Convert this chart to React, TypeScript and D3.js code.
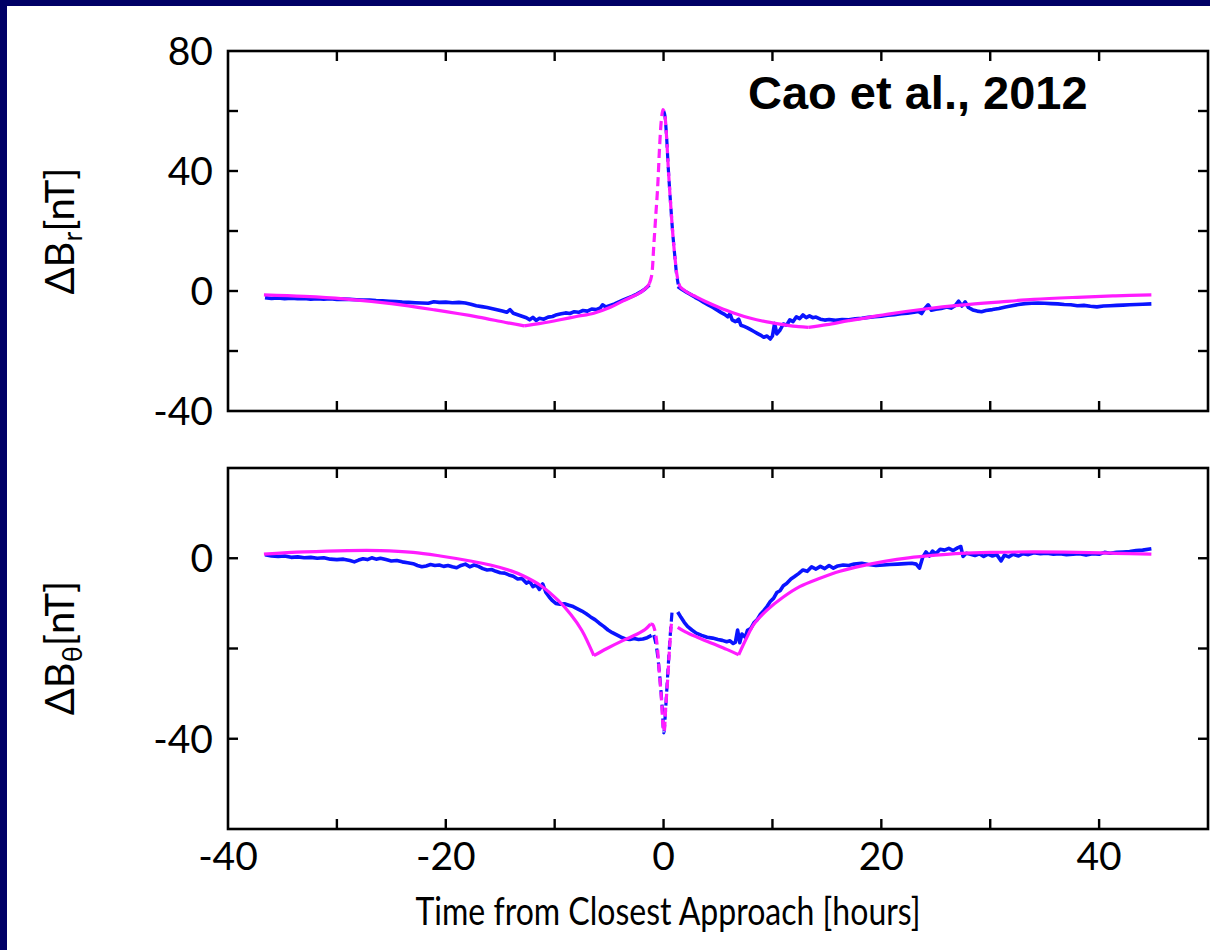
import React from 'react';
import * as d3 from 'd3';

// Canvas and panel geometry
const W = 1210;
const H = 950;
const X0 = 228;
const X1 = 1208;
const TOP = { y0: 51, y1: 411 };
const BOT = { y0: 468, y1: 829 };

// Axes
const xDomain: [number, number] = [-40, 50];
const xTicks = [-30, -20, -10, 0, 10, 20, 30, 40];
const xTickLabels = [-40, -20, 0, 20, 40];
const brDomain: [number, number] = [-40, 80];
const brTicks = [-20, 0, 20, 40, 60];
const brTickLabels = [80, 40, 0, -40];
const btDomain: [number, number] = [-60, 20];
const btTicks = [-40, -20, 0];
const btTickLabels = [0, -40];

// ΔBr — model (magenta), [hours, nT]
const brModelLeftA = [[-36.7, -1.3], [-33, -1.8], [-29.4, -2.6], [-25, -4.2], [-21, -6.3], [-17, -8.7], [-14.5, -10.5], [-12.8, -11.6]];
const brModelLeftB = [[-12.8, -11.6], [-11.3, -10.8], [-9.5, -9.6], [-8, -8.5], [-6.4, -7.4], [-5, -5.6], [-3.7, -3.3], [-2.7, -1.6], [-2, -0.2], [-1.5, 1.4], [-1.3, 2.5]];
const brModelPeak = [[-1.3, 2.5], [-1.1, 5], [-0.9, 15], [-0.7, 26], [-0.55, 34], [-0.35, 49], [-0.2, 57], [-0.05, 60.5], [0.1, 59], [0.25, 53], [0.45, 40], [0.65, 29], [0.85, 19], [1.05, 11], [1.25, 5], [1.5, 1.4]];
const brModelRightA = [[1.5, 1.4], [2.2, -0.5], [2.8, -1.6], [3.8, -3.4], [5, -5.3], [6.5, -7.4], [8, -9.1], [9.5, -10.3], [11, -11.2], [12.4, -11.9], [13.3, -12.1]];
const brModelRightB = [[13.3, -12.1], [15, -11.2], [17, -9.9], [20.8, -7.6], [24, -6], [27.3, -4.7], [31, -3.6], [34, -2.8], [38, -2.1], [41.5, -1.6], [44.8, -1.3]];

// ΔBr — observed (blue)
const brObsLeft = [[-36.6, -2.2], [-36.0, -2.5], [-35.4, -2.3], [-34.8, -2.6], [-34.2, -2.4], [-33.6, -2.6], [-33.0, -2.5], [-32.4, -2.7], [-31.8, -2.6], [-31.2, -2.7], [-30.6, -2.6], [-30.0, -2.8], [-29.4, -2.7], [-28.8, -2.8], [-28.2, -2.9], [-27.6, -3.0], [-27.0, -3.0], [-26.4, -3.2], [-25.8, -3.3], [-25.2, -3.4], [-24.6, -3.5], [-24.0, -3.7], [-23.4, -3.8], [-22.8, -3.9], [-22.2, -4.0], [-21.6, -4.1], [-21.1, -3.6], [-20.6, -3.8], [-20.0, -3.7], [-19.4, -3.9], [-18.8, -3.8], [-18.2, -4.0], [-17.7, -4.4], [-17.2, -4.9], [-16.7, -5.2], [-16.2, -5.5], [-15.7, -5.9], [-15.2, -6.3], [-14.8, -6.7], [-14.4, -7.1], [-14.1, -6.2], [-13.8, -7.4], [-13.4, -7.9], [-13.0, -8.4], [-12.6, -8.9], [-12.3, -9.6], [-12.0, -8.8], [-11.7, -9.8], [-11.4, -9.1], [-11.0, -9.4], [-10.6, -8.7], [-10.2, -8.5], [-9.8, -7.9], [-9.4, -7.6], [-9.0, -7.3], [-8.6, -7.5], [-8.2, -6.9], [-7.8, -7.1], [-7.4, -6.5], [-7.0, -6.7], [-6.6, -6.0], [-6.2, -6.2], [-5.8, -5.6], [-5.6, -4.6], [-5.3, -5.3], [-4.9, -4.8], [-4.5, -4.3], [-4.1, -3.6], [-3.7, -3.0], [-3.3, -2.4], [-2.9, -1.8], [-2.5, -1.1], [-2.1, -0.3], [-1.7, 0.7], [-1.3, 2.0]];
const brObsPeak = [[0.0, 60], [0.1, 59], [0.25, 53], [0.45, 40], [0.65, 29], [0.85, 19], [1.05, 11], [1.2, 5.5], [1.35, 2.2]];
const brObsRight = [[1.3, 1.5], [1.7, 0.5], [2.1, -0.4], [2.5, -1.2], [2.9, -2.1], [3.3, -2.9], [3.7, -3.8], [4.1, -4.6], [4.5, -5.4], [4.9, -6.3], [5.3, -7.2], [5.6, -7.8], [5.9, -8.6], [6.1, -7.6], [6.3, -9.6], [6.6, -10.2], [6.9, -9.4], [7.1, -11.4], [7.4, -11.8], [7.7, -12.3], [8.0, -12.9], [8.3, -13.5], [8.6, -14.1], [8.9, -14.7], [9.2, -15.4], [9.5, -15.0], [9.8, -16.0], [10.0, -15.0], [10.2, -10.8], [10.4, -14.3], [10.7, -13.0], [11.0, -11.0], [11.3, -11.4], [11.6, -9.6], [11.9, -10.2], [12.2, -8.6], [12.5, -9.2], [12.8, -8.0], [13.1, -8.9], [13.4, -8.3], [13.7, -8.9], [14.0, -8.7], [14.4, -9.4], [14.8, -9.7], [15.2, -9.5], [15.8, -9.8], [16.4, -9.5], [17.0, -9.6], [17.6, -9.3], [18.2, -9.1], [18.8, -8.8], [19.4, -8.6], [20.0, -8.4], [20.6, -8.1], [21.2, -7.9], [21.8, -7.6], [22.4, -7.4], [23.0, -7.1], [23.4, -6.8], [23.7, -7.5], [24.0, -5.8], [24.3, -4.6], [24.6, -6.4], [25.0, -6.1], [25.5, -5.8], [26.0, -5.3], [26.4, -5.7], [26.8, -4.8], [27.1, -3.4], [27.4, -5.0], [27.7, -3.6], [28.0, -5.5], [28.4, -6.3], [28.8, -6.7], [29.2, -6.9], [29.6, -6.5], [30.2, -6.2], [30.8, -5.8], [31.4, -5.3], [32.0, -4.9], [32.6, -4.5], [33.2, -4.2], [33.8, -4.1], [34.4, -4.0], [35.0, -4.1], [35.6, -4.2], [36.2, -4.3], [36.8, -4.5], [37.4, -4.6], [38.0, -4.9], [38.6, -4.8], [39.2, -5.1], [39.8, -5.3], [40.4, -5.0], [41.0, -4.9], [41.6, -4.8], [42.2, -4.7], [42.8, -4.6], [43.4, -4.5], [44.0, -4.4], [44.8, -4.3]];

// ΔBθ — model (magenta)
const btModelLeftA = [[-36.7, 0.9], [-33, 1.4], [-29, 1.7], [-26, 1.7], [-23, 1.3], [-20.5, 0.5], [-18, -0.5], [-15.9, -1.5], [-14, -2.8], [-12.8, -4.0], [-11.2, -6.2], [-9.7, -9.3], [-8.5, -12.5], [-7.5, -16], [-6.4, -21.6]];
const btModelLeftB = [[-6.4, -21.6], [-5.2, -20], [-3.7, -18.2], [-2.5, -16.9], [-1.7, -15.8], [-1.2, -14.6]];
const btModelDip = [[-1.2, -14.6], [-1.0, -14.7], [-0.8, -16], [-0.6, -19], [-0.4, -25], [-0.2, -31], [-0.05, -37], [0.05, -38.5], [0.2, -33], [0.4, -26], [0.55, -20], [0.7, -15], [0.75, -14.2]];
const btModelRightA = [[1.3, -15.3], [2.0, -16.3], [3.1, -17.5], [4.5, -18.9], [5.8, -20.2], [6.9, -21.4]];
const btModelRightB = [[6.9, -21.4], [7.6, -17.8], [8.3, -14.6], [9.5, -11.5], [11, -8.6], [12.5, -6.3], [14.3, -4.5], [16.2, -2.9], [18.2, -1.7], [20.3, -0.7], [22.5, 0.1], [25, 0.7], [27.3, 1.1], [30, 1.3], [34, 1.4], [38, 1.3], [41.5, 1.1], [44.8, 0.9]];

// ΔBθ — observed (blue)
const btObsLeft = [[-36.6, 0.8], [-36, 0.5], [-35.4, 0.4], [-34.8, 0.5], [-34.2, 0.2], [-33.6, 0.3], [-33, 0.1], [-32.4, 0.2], [-31.8, 0.0], [-31.2, 0.1], [-30.6, -0.2], [-30, -0.3], [-29.4, -0.2], [-28.8, -0.5], [-28.4, -0.8], [-28, -0.4], [-27.6, -0.1], [-27.2, -0.3], [-26.8, 0.1], [-26.4, -0.2], [-26, 0.0], [-25.5, -0.3], [-25, -0.6], [-24.5, -0.5], [-24, -0.8], [-23.5, -1.0], [-23, -1.2], [-22.6, -1.6], [-22.2, -1.9], [-21.8, -1.7], [-21.4, -1.4], [-21, -1.6], [-20.6, -1.5], [-20.2, -1.8], [-19.8, -1.6], [-19.4, -1.9], [-19, -2.1], [-18.6, -1.6], [-18.2, -1.3], [-17.8, -1.9], [-17.4, -1.5], [-17, -1.8], [-16.6, -2.3], [-16.2, -2.6], [-15.8, -2.5], [-15.4, -2.9], [-15, -3.2], [-14.6, -3.3], [-14.2, -3.7], [-13.8, -4.0], [-13.4, -4.6], [-13, -4.5], [-12.6, -5.5], [-12.3, -5.1], [-12, -6.3], [-11.7, -5.8], [-11.4, -6.9], [-11.1, -5.7], [-10.8, -7.6], [-10.5, -8.6], [-10.2, -9.4], [-9.9, -10.0], [-9.5, -10.2], [-9.1, -10.1], [-8.7, -10.4], [-8.3, -10.7], [-7.9, -11.2], [-7.5, -11.7], [-7.1, -12.3], [-6.7, -13.0], [-6.3, -13.6], [-5.9, -14.4], [-5.5, -15.1], [-5.1, -15.9], [-4.7, -16.5], [-4.3, -17.0], [-3.9, -17.5], [-3.5, -17.9], [-3.1, -18.0], [-2.7, -17.8], [-2.3, -18.0], [-1.9, -17.9], [-1.5, -17.6], [-1.1, -17.1]];
const btObsDip = [[-0.9, -17], [-0.7, -19], [-0.5, -22.5], [-0.3, -27.5], [-0.1, -34], [0.02, -38.7], [0.2, -33], [0.4, -25], [0.6, -17.5], [0.8, -11.3]];
const btObsRight = [[1.3, -11.9], [1.6, -13.1], [1.9, -14.2], [2.2, -15.1], [2.6, -15.9], [3.0, -16.6], [3.5, -17.1], [4.0, -17.5], [4.5, -17.7], [5.0, -18.0], [5.4, -18.2], [5.8, -18.5], [6.1, -18.3], [6.4, -18.9], [6.6, -18.6], [6.8, -15.9], [7.0, -18.7], [7.2, -16.8], [7.5, -17.5], [7.7, -16.0], [8.0, -15.6], [8.3, -14.3], [8.6, -13.6], [8.9, -12.4], [9.2, -11.6], [9.5, -10.7], [9.8, -9.6], [10.1, -8.9], [10.4, -7.6], [10.7, -7.2], [11.0, -6.1], [11.3, -5.6], [11.7, -4.6], [12.0, -4.1], [12.4, -3.4], [12.8, -2.6], [13.2, -2.9], [13.6, -1.9], [14.0, -2.4], [14.4, -1.8], [14.8, -2.3], [15.2, -1.6], [15.6, -2.2], [16.0, -1.7], [16.5, -1.5], [17.0, -1.6], [17.5, -1.3], [18.2, -1.1], [18.8, -1.4], [19.5, -1.6], [20.2, -1.5], [20.8, -1.4], [21.5, -1.3], [22.2, -1.2], [22.8, -1.1], [23.2, -1.3], [23.5, -2.2], [23.8, 0.2], [24.1, 1.4], [24.4, 0.5], [24.7, 1.6], [25.0, 1.0], [25.4, 2.0], [25.8, 1.8], [26.2, 2.2], [26.6, 1.7], [27.0, 2.3], [27.3, 2.6], [27.5, 0.4], [27.8, 1.1], [28.2, 0.9], [28.6, 0.6], [29.0, 1.0], [29.4, 0.4], [29.8, 0.9], [30.2, 0.5], [30.6, 0.8], [31.0, -0.6], [31.3, 0.7], [31.7, 0.3], [32.1, 0.9], [32.6, 0.5], [33.0, 1.0], [33.5, 0.8], [34.0, 1.2], [34.6, 1.0], [35.2, 1.1], [35.8, 0.9], [36.4, 1.0], [37.0, 0.8], [37.6, 0.9], [38.2, 1.0], [38.8, 0.7], [39.4, 1.0], [40.0, 0.9], [40.5, 1.3], [41.0, 1.1], [41.6, 1.3], [42.2, 1.4], [42.8, 1.5], [43.4, 1.7], [44.0, 1.8], [44.8, 2.1]];

const BLUE = '#0a14ff';
const MAGENTA = '#ff1cff';
const NAVY = '#000066';
const TICK_FONT = 'Lato, "Open Sans", sans-serif';

const x = d3.scaleLinear().domain(xDomain).range([X0, X1]);

type Pt = number[];

function Panel({ domain, y0, y1, ticks, tickLabels, obs, model }: {
  domain: [number, number]; y0: number; y1: number; ticks: number[]; tickLabels: number[];
  obs: { pts: Pt[]; dashed?: boolean }[]; model: { pts: Pt[]; dashed?: boolean }[];
}) {
  const y = d3.scaleLinear().domain(domain).range([y1, y0]);
  const smooth = d3.line<Pt>().x(d => x(d[0])).y(d => y(d[1])).curve(d3.curveCatmullRom.alpha(0.5));
  const rough = d3.line<Pt>().x(d => x(d[0])).y(d => y(d[1]));
  const tl = 10;
  return (
    <g>
      {obs.map((s, i) => (
        <path key={'o' + i} d={(s.dashed ? smooth : rough)(s.pts) || ''} fill="none" stroke={BLUE}
          strokeWidth={s.dashed ? 3.2 : 3.6} strokeLinejoin="round" strokeDasharray={s.dashed ? '9,5' : undefined} />
      ))}
      {model.map((s, i) => (
        <path key={'m' + i} d={smooth(s.pts) || ''} fill="none" stroke={MAGENTA}
          strokeWidth={3.2} strokeLinejoin="round" strokeDasharray={s.dashed ? '9,5' : undefined} />
      ))}
      <rect x={X0} y={y0} width={X1 - X0} height={y1 - y0} fill="none" stroke="#000" strokeWidth={2.6} />
      {xTicks.map(t => (
        <g key={'xt' + t}>
          <line x1={x(t)} x2={x(t)} y1={y0} y2={y0 + tl} stroke="#000" strokeWidth={2.4} />
          <line x1={x(t)} x2={x(t)} y1={y1} y2={y1 - tl} stroke="#000" strokeWidth={2.4} />
        </g>
      ))}
      {ticks.map(t => (
        <g key={'yt' + t}>
          <line x1={X0} x2={X0 + tl} y1={y(t)} y2={y(t)} stroke="#000" strokeWidth={2.4} />
          <line x1={X1} x2={X1 - tl} y1={y(t)} y2={y(t)} stroke="#000" strokeWidth={2.4} />
        </g>
      ))}
      {tickLabels.map(t => (
        <text key={'yl' + t} x={X0 - 15} y={y(t)} dy="0.36em" textAnchor="end"
          fontFamily={TICK_FONT} fontSize={39} fill="#000">{t}</text>
      ))}
    </g>
  );
}

export default function App() {
  return (
    <svg width={W} height={H} viewBox={`0 0 ${W} ${H}`}
      style={{ position: 'absolute', left: 0, top: 0, background: '#fff' }}>
      <rect x={0} y={0} width={W} height={H} fill="#fff" />
      <Panel domain={brDomain} y0={TOP.y0} y1={TOP.y1} ticks={brTicks} tickLabels={brTickLabels}
        obs={[{ pts: brObsLeft }, { pts: brObsPeak, dashed: true }, { pts: brObsRight }]}
        model={[{ pts: brModelLeftA }, { pts: brModelLeftB }, { pts: brModelPeak, dashed: true }, { pts: brModelRightA }, { pts: brModelRightB }]} />
      <Panel domain={btDomain} y0={BOT.y0} y1={BOT.y1} ticks={btTicks} tickLabels={btTickLabels}
        obs={[{ pts: btObsLeft }, { pts: btObsDip, dashed: true }, { pts: btObsRight }]}
        model={[{ pts: btModelLeftA }, { pts: btModelLeftB }, { pts: btModelDip, dashed: true }, { pts: btModelRightA }, { pts: btModelRightB }]} />

      {xTickLabels.map(t => (
        <text key={'xl' + t} x={x(t)} y={870} textAnchor="middle" fontFamily={TICK_FONT} fontSize={39} fill="#000">{t}</text>
      ))}
      <text x={668} y={925} textAnchor="middle" fontFamily={TICK_FONT} fontSize={38} fill="#000"
        textLength={505} lengthAdjust="spacingAndGlyphs">Time from Closest Approach [hours]</text>

      <text transform="translate(74,231) rotate(-90)" textAnchor="middle" fontFamily={TICK_FONT} fontSize={40} fill="#000">
        ΔB<tspan fontSize={27} dy={8}>r</tspan><tspan dy={-8}>[nT]</tspan>
      </text>
      <text transform="translate(74,648) rotate(-90)" textAnchor="middle" fontFamily={TICK_FONT} fontSize={40} fill="#000">
        ΔB<tspan fontSize={27} dy={8}>θ</tspan><tspan dy={-8}>[nT]</tspan>
      </text>

      <text x={748} y={109} fontFamily='"Liberation Sans", Arial, sans-serif' fontWeight="bold" fontSize={47} fill="#000">Cao et al., 2012</text>

      <rect x={0} y={0} width={W} height={6} fill={NAVY} />
      <rect x={0} y={0} width={7} height={H} fill={NAVY} />
    </svg>
  );
}
